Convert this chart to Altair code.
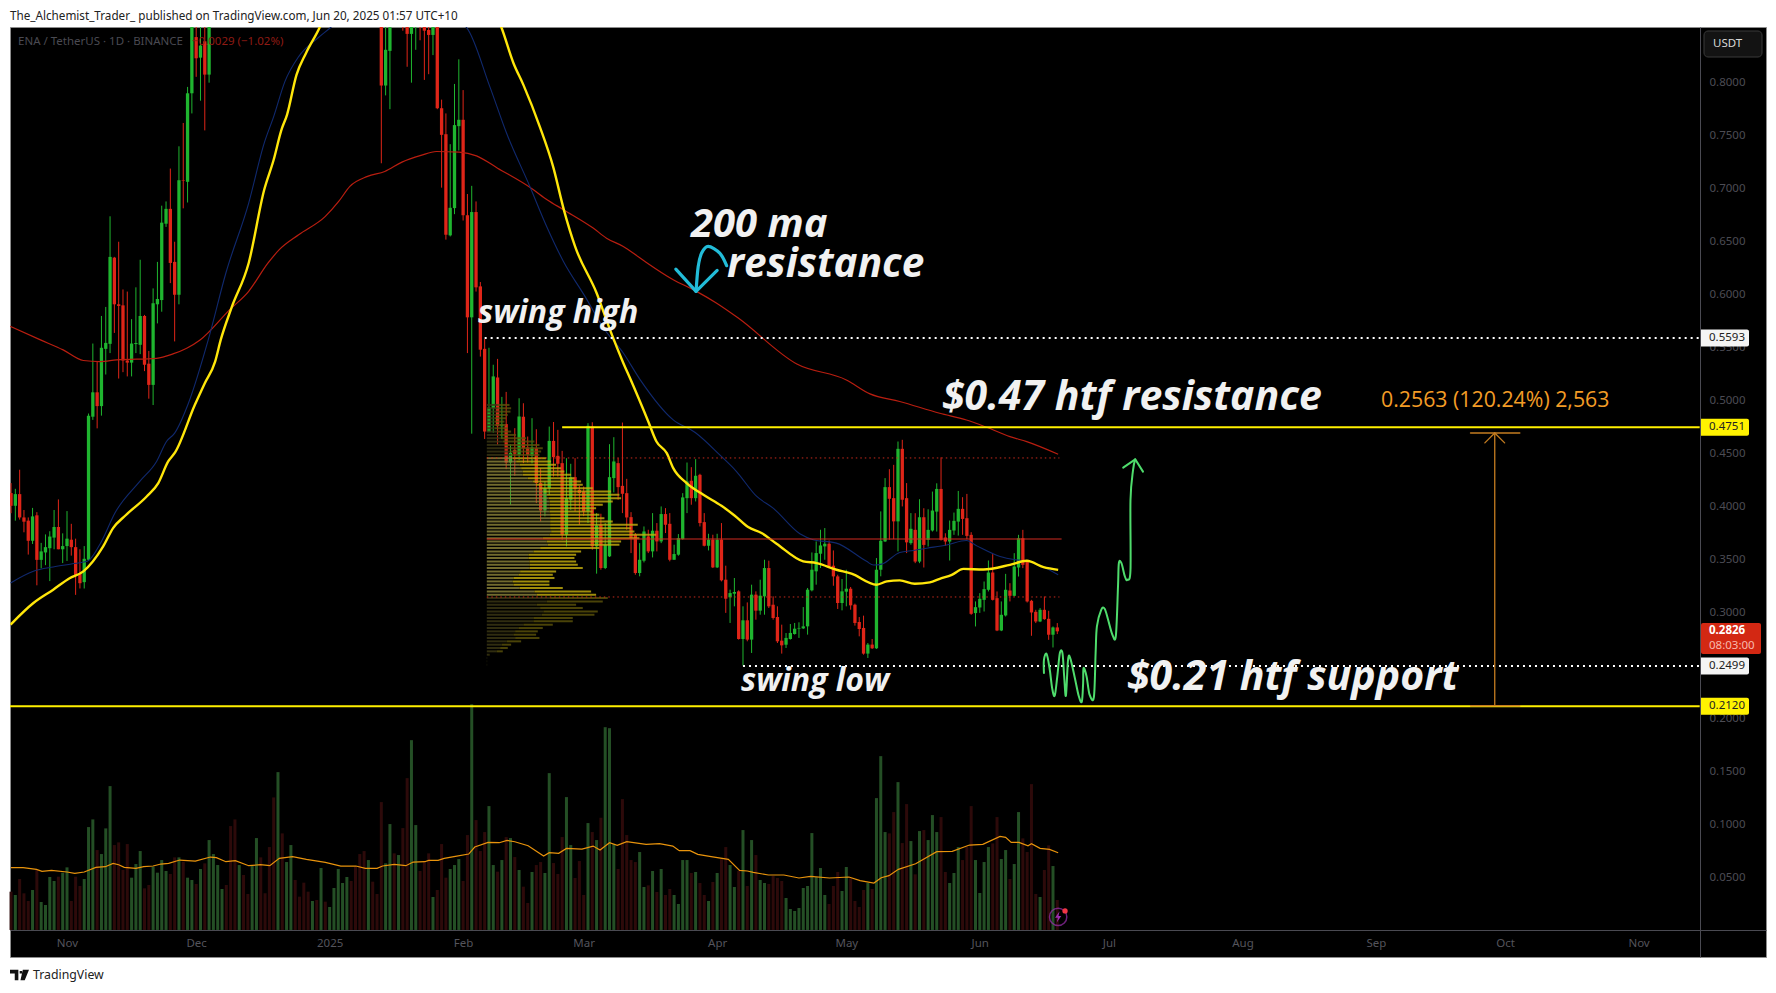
import altair as alt
import pandas as pd

# ---- candle days (days since 2024-11-01); the Dec-Jan candles above the chart top are not visible
candle_days = list(range(-13, 34)) + list(range(73, 231))

opens = [
 .413,.401,.412,.390,.387,.368,.392,.350,.357,.361,
 .371,.381,.360,.363,.369,.362,.337,.329,.350,.485,
 .508,.495,.549,.5537,.635,.591,.590,.538,.536,.5535,
 .5528,.580,.535,.515,.591,.595,.667,.681,.631,.600,
 .708,.7065,.790,.843,.8236,.839,.8076,
 .88,.7973,.830,.87,.88,.89,.87,.846,.87,.88,
 .87,.8497,.845,.88,.7759,.7514,.656,.6817,.759,.765,
 .675,.5787,.678,.6079,.549,.471,.493,.522,.476,.478,
 .4418,.4538,.449,.485,.456,.448,.4553,.4224,.3966,.4176,
 .4622,.4481,.4412,.3737,.4067,.428,.416,.4145,.3957,.4757,
 .3627,.3831,.3423,.3533,.4271,.4412,.4198,.4129,.3903,.3737,
 .3376,.3492,.3721,.358,.3775,.3674,.3932,.384,.3501,.3549,
 .3696,.4082,.4246,.4082,.4302,.3856,.3633,.369,.3429,.369,
 .3313,.3147,.3181,.3203,.2754,.293,.2748,.3172,.3021,.3156,
 .3423,.3077,.2961,.2738,.27,.2754,.2801,.2852,.2854,.2873,
 .3213,.3392,.3558,.3627,.3652,.3445,.3344,.3093,.32,.3228,
 .3077,.2914,.2858,.2616,.2701,.2666,.3407,.3674,.4186,.4082,
 .3863,.4547,.4082,.3658,.3783,.3484,.3902,.3689,.3777,.3955,
 .4169,.3711,.3673,.3777,.3861,.3981,.3893,.3736,.2998,.3051,
 .3123,.3218,.3381,.3139,.2834,.2976,.3211,.3161,.3428,.3704,
 .3484,.3114,.301,.2919,.3029,.2944,.2794,.2863]
closes = [
 .401,.412,.390,.386,.368,.391,.350,.358,.362,.372,
 .381,.360,.363,.370,.362,.335,.328,.351,.486,.508,
 .495,.550,.5546,.6357,.591,.5895,.538,.536,.554,.5545,
 .580,.534,.515,.592,.596,.668,.681,.630,.600,.708,
 .7075,.790,.88,.823,.835,.8076,.87,
 .7973,.831,.8522,.88,.885,.87,.846,.87,.88,.87,
 .849,.845,.855,.7759,.7508,.6566,.682,.760,.765,.675,
 .5787,.678,.607,.5482,.471,.4936,.523,.476,.478,.4418,
 .4509,.45,.4852,.4553,.449,.456,.4224,.3966,.4176,.4622,
 .4469,.4406,.3737,.4082,.428,.4167,.413,.3957,.4764,.3627,
 .3825,.3423,.3643,.428,.4428,.4186,.4123,.39,.3706,.3376,
 .3501,.3768,.358,.3775,.3674,.3932,.3831,.3501,.3555,.3705,
 .4089,.4239,.4082,.4293,.3847,.3633,.369,.3429,.369,.3307,
 .3134,.3187,.3197,.2754,.293,.2748,.3172,.3021,.3162,.3423,
 .3062,.2952,.2732,.2694,.2764,.2811,.2851,.2858,.2873,.3219,
 .3407,.3564,.3636,.3652,.3439,.3344,.3093,.3203,.3228,.3071,
 .2905,.2848,.2616,.2701,.2666,.3407,.368,.4186,.4076,.3863,
 .4547,.4067,.3665,.3793,.3484,.3902,.3641,.3783,.3965,.4169,
 .3689,.3673,.3783,.3868,.3981,.3886,.3726,.2991,.3054,.3133,
 .3224,.3381,.3123,.2834,.2982,.3218,.3161,.3437,.3704,.3453,
 .3108,.3004,.2919,.3029,.2941,.2794,.2863,.2826]
highs = [
 .4224,.417,.435,.397,.390,.399,.395,.366,.374,.377,
 .397,.407,.375,.396,.384,.370,.360,.363,.488,.554,
 .537,.580,.5885,.674,.6357,.650,.605,.603,.577,.607,
 .633,.581,.547,.606,.631,.684,.688,.719,.650,.740,
 .762,.796,.90,.88,.88,.87,.89,
 .90,.86,.88,.90,.91,.91,.90,.90,.90,.90,
 .90,.89,.89,.90,.784,.771,.742,.7988,.822,.793,
 .695,.7027,.688,.612,.5583,.55,.534,.5395,.5037,.5084,
 .459,.4742,.5024,.4977,.4663,.4836,.4732,.4365,.4239,.4757,
 .48,.4726,.4528,.4459,.4406,.4459,.42,.4192,.4789,.4798,
 .394,.3935,.3847,.4591,.4657,.4459,.4795,.4264,.395,.3753,
 .3658,.3815,.3784,.3941,.3847,.4004,.3988,.3941,.3643,.3743,
 .4129,.4418,.4374,.445,.4312,.3941,.3746,.3737,.3746,.3847,
 .3445,.3219,.3329,.3213,.3062,.3099,.3266,.3203,.3313,.3501,
 .3492,.3156,.3062,.2889,.281,.2895,.2905,.2911,.3055,.3235,
 .357,.3674,.3784,.38,.3683,.3589,.336,.3319,.3407,.3244,
 .3087,.2961,.2974,.2716,.2754,.3517,.3957,.4271,.4355,.4396,
 .4616,.4632,.4224,.3941,.394,.4072,.3987,.3977,.4144,.4222,
 .4467,.3751,.3871,.3946,.415,.4091,.4122,.3761,.3108,.3186,
 .3296,.3494,.3554,.3202,.3108,.3368,.328,.3563,.3736,.3783,
 .35,.3123,.3029,.3045,.3155,.302,.2872,.2904]
lows = [
 .394,.387,.388,.376,.355,.365,.326,.342,.345,.330,
 .360,.360,.347,.349,.354,.317,.323,.323,.349,.482,
 .474,.486,.5248,.545,.564,.521,.527,.523,.523,.545,
 .544,.528,.502,.496,.573,.584,.664,.611,.556,.591,
 .6815,.687,.771,.8055,.783,.755,.800,
 .724,.788,.775,.86,.865,.849,.815,.800,.831,.840,
 .8026,.808,.826,.775,.701,.652,.655,.676,.736,.670,
 .545,.469,.603,.5417,.464,.471,.470,.4585,.464,.4355,
 .402,.4293,.444,.4412,.4418,.441,.4035,.3863,.391,.4114,
 .4286,.4286,.369,.3627,.3972,.3957,.383,.3912,.3847,.3596,
 .337,.3407,.3413,.3527,.4136,.4067,.3941,.3784,.3564,.336,
 .3345,.3476,.3564,.3523,.358,.3658,.3753,.3486,.3501,.3539,
 .369,.3941,.402,.4051,.3815,.3627,.3589,.3423,.3423,.3297,
 .30,.2905,.3062,.2748,.2503,.2732,.2622,.2936,.2983,.2983,
 .3046,.2936,.2716,.2616,.2669,.2748,.2795,.2764,.2848,.2795,
 .3203,.3266,.3423,.3501,.3423,.3256,.3037,.3024,.3062,.303,
 .288,.2779,.2606,.2575,.266,.266,.3345,.3668,.369,.3696,
 .358,.4004,.3564,.3643,.3469,.3469,.3428,.3626,.3767,.3767,
 .3682,.3632,.3494,.3736,.3729,.3736,.3695,.2982,.2872,.30,
 .3013,.3202,.3117,.2828,.2828,.2966,.3108,.3155,.3343,.3422,
 .3098,.2784,.2904,.2913,.2935,.2746,.2674,.28]

# ---- volume (relative units), first bar 2024-10-19, one per day
volume = [
 115,105,153,110,87,120,180,84,75,159,
 147,160,172,188,87,160,132,153,309,332,
 240,228,305,432,255,263,180,258,157,198,
 237,125,135,190,172,210,177,168,218,218,
 205,157,150,138,183,200,270,228,195,123,
 135,312,332,195,165,108,192,276,218,110,
 249,398,474,290,204,255,150,100,142,115,
 87,90,186,85,69,126,183,141,159,147,
 190,228,237,210,145,108,384,200,318,230,
 225,306,456,570,315,177,204,230,99,120,
 258,157,183,195,213,147,285,678,330,237,
 294,372,195,175,210,279,276,219,180,130,
 81,174,195,204,171,471,201,168,279,399,
 255,156,207,105,321,294,270,337,609,606,
 258,183,393,285,210,204,234,129,134,177,
 114,183,105,123,105,78,210,210,171,174,
 141,105,87,144,171,213,249,195,129,177,
 300,132,270,225,150,141,138,162,156,147,
 96,63,57,66,126,132,291,159,186,105,
 78,132,174,117,189,155,87,69,120,141,
 123,396,522,294,290,354,444,261,378,267,
 167,297,300,270,345,294,339,174,141,171,
 249,210,250,372,210,111,204,249,260,339,
 213,240,153,198,354,275,234,438,108,99,
 180,254,192,90]
volume_dir = "".join([
 "rgrrrgrggg","grggrrrggg","rgggrrrrgg","grrggggrrg","rggrgrgggg",
 "rrrgrrggrr","rrgrggrrrr","grgrgggggr","rrrgrrrggr","grrggrrrgr",
 "rrgggrrgrr","rggrgrgrgr","rgrrggrrrg","grrrgrgrgg","grrrrrggrg",
 "rgrrggggrg","rrgrgrrggr","grgrggrrrr","gggggggggg","rrrggrrrrg",
 "rgggrrgrrg","rgrgggrrgg","grrrggggrr","ggrggrrrrg","rrgr"])

vol_ma_day = [-13,-10.2,-7.1,-5.8,-3.6,0,1.8,4,6.7,8.9,10.7,12,13.3,16,17.8,20,21.8,23.6,26.2,29.8,33.3,34.7,36.9,39.1,42.2,44.9,47.1,49.3,52.4,55.6,60,63.6,67.1,69.3,72,73.3,76,78.7,80.4,83.1,84,86.2,87.6,90.2,93.3,94.7,97.8,100.4,102.2,104,107.1,110.7,112,114.2,116,119.6,122.2,
              123.8,126,127.8,130,134.5,137.6,140.7,142.2,144.7,146.5,149.6,153.6,156.2,158,159.4,162.9,166.5,170,172.7,177.1,181.6,184.2,187.4,189.1,190.9,193.1,197.1,202,205.6,209.6,212.7,216.7,218,219.3,221.1,223.2,224,226,228.2,230.2]
vol_ma = [187,187,182,176,179,174,170,174,188,190,200,196,188,185,190,192,198,200,210,207,219,217,205,208,193,196,193,215,220,212,203,192,192,185,185,192,197,193,204,205,209,209,215,221,228,249,263,262,269,265,253,222,232,230,245,243,252,
          240,262,254,265,257,259,252,238,238,227,220,212,179,177,173,165,165,156,161,156,159,148,141,157,163,182,199,235,236,255,257,281,278,263,263,253,259,245,242,232]

# ---- moving averages
ma_red_day = [-13.2,-6.3,-0.9,3.8,7.7,11.5,20.8,24.6,27.8,30.9,37.8,42.2,46.7,49.3,53.8,60,63.1,65.7,69.8,73.8,77.8,82.2,85.8,91.1,95.1,100,108,111.5,115.4,122.2,125.3,129.2,133.1,140.8,146.2,150.8,155.9,169.5,181,186.5,193.4,202.7,208.9,213.6,219,222.9,230.2]
ma_red = [.5703,.5577,.548,.538,.537,.5386,.5401,.5442,.5496,.5574,.586,.6033,.630,.6425,.6566,.6739,.688,.7022,.7116,.7163,.7251,.7314,.7351,.7345,.731,.7194,.70,.6896,.68,.6629,.6534,.6456,.6346,.6142,.6032,.5922,.578,.5347,.5197,.5065,.4993,.4883,.4819,.475,.4662,.4615,.4496]

ma_blue_day = [-13.1,-7.8,-3.2,1,4.7,8,11.1,16.9,20.8,23.1,25,28.2,32.8,36.9,42.2,45.8,48,50.6,53.8,58.2,61.3,66,75,85,92.8,98.2,102.1,107.5,111.4,115.3,120.3,124.6,129.2,133.1,140.8,145.9,151.6,155.5,160.2,164,170.2,173.3,178.7,185.7,187.3,189.2,193.4,196.6,199.7,204.3,208.9,211.3,216.7,220.5,223.6,230.2]
ma_blue = [.3282,.3392,.3433,.3461,.3486,.3674,.394,.424,.4428,.4616,.4695,.4977,.5574,.6205,.6865,.743,.768,.801,.8246,.8419,.8523,.87,.89,.87,.852,.7963,.7523,.7021,.6644,.6314,.5985,.5687,.5451,.52,.482,.4701,.449,.4333,.4098,.3988,.3746,.369,.3658,.3486,.3451,.346,.357,.3589,.361,.3641,.3682,.3632,.3532,.35,.3485,.3359]

ma_yellow_day = [-13.1,-7.8,-3.2,.7,3.8,8.4,10.7,13.5,18.5,21.2,23.5,25.1,29.7,32,34.4,35.7,38.2,42.2,45.8,48,49.8,51.1,53.3,55.5,58.7,61,70,80,92,100.9,103.7,106,109.8,112.9,115.4,118,123,126.1,129.2,130.9,135,136.9,139.3,140.8,143.9,147.8,152,155.1,158.2,161.3,164.8,171,174.1,178.7,182.2,188,190.4,193.4,196.9,200.4,202.7,205.5,208.2,212.8,219,222.9,226.8,230.2]
ma_yellow = [.289,.3093,.3219,.3329,.3392,.3627,.38,.3916,.4098,.4224,.4428,.4513,.4962,.5166,.537,.5574,.5876,.63,.699,.7273,.7555,.7697,.8074,.8278,.8523,.875,.94,.96,.90,.852,.8183,.7979,.7586,.7209,.6801,.6456,.6016,.5671,.5357,.52,.4805,.4616,.4506,.4365,.4224,.4114,.401,.3916,.3809,.3753,.3652,.3486,.347,.3407,.337,.3266,.3297,.3307,.3275,.3288,.3321,.3359,.3415,.3409,.3453,.3491,.3431,.3406]

# ---- volume profile rows (price descending) total and up part, relative units
vp_total = [68,73,71,63,58,53,58,63,73,88,118,143,158,168,163,158,178,193,208,223,233,253,263,283,288,318,373,398,403,378,348,328,318,338,353,378,453,433,443,508,458,403,398,338,283,268,263,268,273,288,208,198,203,188,188,228,313,328,363,348,268,288,333,323,258,258,198,168,153,148,158,103,73,63,48,8,1,1,1]
vp_up = [33,33,36,28,23,23,23,23,33,38,43,48,53,63,68,73,78,88,98,103,108,108,123,138,148,158,170,180,185,188,188,188,188,190,190,190,190,190,193,188,168,180,183,160,140,125,125,128,128,128,100,95,80,78,80,98,143,150,190,180,150,160,170,165,140,140,110,95,85,80,85,60,45,40,30,6,1,1,1]
vp_top_price = 0.4961
vp_bin = 0.00314

# ---- levels
res_high = 0.4751
sup_low = 0.2120
swing_high = 0.5593
swing_low = 0.2499
poc = 0.3697
va_high = 0.4461
va_low = 0.3150

# ---- drawn paths (day, price)
wave_day = [226.9,226.9,227.5,228.2,228.8,229.4,230,230.6,231.2,231.6,232,232.5,233,234,235,235.7,236,236.1,236.8,237.5,238.5,238.9,239.2,240.2,241,241.8,242.8,243.6,244.1,244.3,244.9,245.7,246.3,247,247,247.6,248.1]
wave_price = [.2433,.2558,.2615,.248,.2291,.2219,.2401,.2621,.2621,.2401,.2219,.2558,.2574,.2401,.2213,.2163,.2338,.248,.2401,.2229,.2207,.2621,.2872,.3029,.3039,.2935,.2794,.2784,.3249,.3469,.3469,.3343,.3312,.3406,.4065,.4348,.4448]
wave_head_day = [245.3,248.1,249.9]
wave_head_price = [.437,.4448,.4332]
cyan_day = [153.2,151.6,148.9,147.4,146.6,146.1]
cyan_price = [.6274,.6393,.6456,.6393,.6267,.6032]
cyan_head_day = [141.4,146.1,151]
cyan_head_price = [.6242,.6032,.623]

time_ticks = [0,30,61,92,120,151,181,212,242,273,304,334,365]
time_labels = ["Nov","Dec","2025","Feb","Mar","Apr","May","Jun","Jul","Aug","Sep","Oct","Nov"]
price_ticks = [.05,.10,.15,.20,.25,.30,.35,.40,.45,.50,.55,.60,.65,.70,.75,.80]

GREEN, RED = "#1fb52f", "#df2518"
xs = alt.Scale(domain=[-13.24, 394.6], nice=False, zero=False, padding=0)
ys = alt.Scale(domain=[-0.0245, 0.8525], nice=False, zero=False, padding=0)
label_map = "{" + ",".join(f"'{k}':'{v}'" for k, v in zip(time_ticks, time_labels)) + "}"
x_axis = alt.Axis(
    values=time_ticks, labelExpr=label_map + "[datum.value]", orient="bottom", offset=-27,
    title=None, grid=False, ticks=False, domain=True, domainColor="#4a4a52", labelColor="#54545c",
    labelFont="Noto Sans", labelFontSize=11.5, labelPadding=7, labelOverlap=False, labelFlush=False)
y_axis = alt.Axis(
    values=price_ticks, format=".4f", orient="right", offset=-66, title=None, grid=False,
    ticks=False, domain=True, domainColor="#4a4a52", labelColor="#4c4c54", labelFont="Noto Sans",
    labelFontSize=11.5, labelPadding=9, labelOverlap=False, labelFlush=False)
X = lambda f="d": alt.X(f"{f}:Q", scale=xs, axis=x_axis)
Y = lambda f="p": alt.Y(f"{f}:Q", scale=ys, axis=y_axis)
X2 = lambda f: alt.X2(f"{f}")
Y2 = lambda f: alt.Y2(f"{f}")
nocolor = lambda: alt.Color("c:N", scale=None, legend=None)

cd = pd.DataFrame(dict(d=candle_days, o=opens, c_=closes, h=highs, l=lows))
cd["c"] = [GREEN if a >= b else RED for a, b in zip(cd.c_, cd.o)]

wicks = alt.Chart(cd).mark_rule(strokeWidth=1, clip=True).encode(
    x=X(), y=Y("l"), y2=Y2("h"), color=nocolor())
bodies = alt.Chart(cd).mark_bar(size=3.3, clip=True, orient="vertical").encode(
    x=X(), y=Y("o"), y2=Y2("c_"), color=nocolor())

# volume pane, placed on the price scale as an overlay
vol_base = 0.0010
vol_k = 0.000314
vd = pd.DataFrame(dict(d=list(range(-13, 231)), v=volume))
vd["c"] = ["#244f25" if s == "g" else "#2d0a0a" for s in volume_dir]
vd["top"] = vol_base + vd.v * vol_k
vd["base"] = vol_base
vol_bars = alt.Chart(vd).mark_bar(size=3, orient="vertical").encode(
    x=X(), y=Y("top"), y2=Y2("base"), color=nocolor())
vm = pd.DataFrame(dict(d=vol_ma_day, p=[vol_base + v * vol_k for v in vol_ma]))
vol_line = alt.Chart(vm).mark_line(color="#e8930c", strokeWidth=1.2).encode(x=X(), y=Y())

def ma(days, vals, color, w):
    return alt.Chart(pd.DataFrame(dict(d=days, p=vals))).mark_line(
        color=color, strokeWidth=w, clip=True, interpolate="monotone").encode(x=X(), y=Y())

red_ma = ma(ma_red_day, ma_red, "#b91e10", 1.2)
blue_ma = ma(ma_blue_day, ma_blue, "#10296e", 1.1)
yellow_ma = ma(ma_yellow_day, ma_yellow, "#ffe60a", 2.4)

# volume profile
prices = [vp_top_price - i * vp_bin for i in range(len(vp_total))]
vp_start = 97.5
vp_scale = 12.92
rows = []
for p, t, u in zip(prices, vp_total, vp_up):
    inside = va_low <= p <= va_high
    mid = vp_start + u / vp_scale
    rows.append(dict(p=p, d=vp_start, e=mid, c="#8a8238" if inside else "#3a3714"))
    rows.append(dict(p=p, d=mid, e=vp_start + t / vp_scale, c="#c2ac0e" if inside else "#5a520a"))
vp = alt.Chart(pd.DataFrame(rows)).mark_rule(strokeWidth=2, opacity=0.82).encode(
    x=X(), x2=X2("e"), y=Y(), color=nocolor())

def hline(p, d0, d1, color, w, dash=None):
    kw = dict(strokeDash=dash) if dash else {}
    return alt.Chart(pd.DataFrame(dict(d=[d0], e=[d1], p=[p]))).mark_rule(
        color=color, strokeWidth=w, **kw).encode(x=X(), x2=X2("e"), y=Y())

AX = 379.2
levels = [
    hline(va_high, 97.5, 230.5, "#c92a1d", 1, [1.5, 3]),
    hline(va_low, 97.5, 230.5, "#c92a1d", 1, [1.5, 3]),
    hline(poc, 97.5, 231, "#cf2a20", 1.2),
    hline(swing_high, 97, AX, "#ffffff", 2, [2, 4]),
    hline(swing_low, 157, AX, "#ffffff", 2, [2, 4]),
    hline(res_high, 115, AX, "#fff000", 2),
    hline(sup_low, -13.24, AX, "#fff000", 2),
]

def path(days, prices_, color, w, interp="linear"):
    df = pd.DataFrame(dict(d=days, p=prices_, i=range(len(days))))
    return alt.Chart(df).mark_line(color=color, strokeWidth=w, interpolate=interp,
                                   strokeCap="round", strokeJoin="round").encode(
        x=X(), y=Y(), order="i:Q")

drawn = [
    path(wave_day, wave_price, "#4fdc6c", 2, "cardinal"),
    path(wave_head_day, wave_head_price, "#4fdc6c", 2),
    path(cyan_day, cyan_price, "#22bcd8", 3.2, "cardinal"),
    path(cyan_head_day, cyan_head_price, "#22bcd8", 3.2),
]

# price-range measure tool
M = "#c47c20"
measure = [
    path([331.6, 331.6], [.2132, .4697], M, 1.3),
    path([326, 337.4], [.4697, .4697], M, 1.6),
    path([326, 337.4], [.2125, .2125], M, 1.6),
    path([329.3, 331.6, 333.9], [.4603, .4697, .4603], M, 1.3),
]

def txt(text, x, y, **kw):
    kw.setdefault("align", "left")
    kw.setdefault("baseline", "middle")
    return alt.Chart(pd.DataFrame({"t": [text]})).mark_text(**kw).encode(
        x=alt.value(x - 10), y=alt.value(y - 27), text="t:N")

CH = dict(font="Open Sans", fontStyle="italic", fontWeight="bold", color="#f1f1f1")
notes = [
    txt("200 ma", 691, 225, fontSize=40, **CH),
    txt("resistance", 727, 265, fontSize=40.5, **CH),
    txt("swing high", 478, 313, fontSize=32, **CH),
    txt("swing low", 741, 681, fontSize=32, **CH),
    txt("$0.47 htf resistance", 942, 398, fontSize=41, **CH),
    txt("$0.21 htf support", 1127, 678, fontSize=41, **CH),
    txt("0.2563 (120.24%) 2,563", 1381, 401, font="Open Sans", fontSize=21.3, color="#f39c26"),
    txt("ENA / TetherUS · 1D · BINANCE", 18, 42, font="Noto Sans", fontSize=11.5, color="#4a4a52"),
    txt("−0.0029 (−1.02%)", 192, 42, font="Noto Sans", fontSize=11.5, color="#8f1b14"),
    txt("The_Alchemist_Trader_ published on TradingView.com, Jun 20, 2025 01:57 UTC+10", 10, 16,
        font="Noto Sans", fontSize=11.7, color="#222222"),
    txt("TradingView", 33, 975, font="Noto Sans", fontSize=12.3, color="#222222"),
]

# right-hand price tags
def tag(p, fill, ink, x1=1749, half=0.008, label=None):
    df = pd.DataFrame(dict(p=[p], a=[p + half], b=[p - half], t=[label or f"{p:.4f}"]))
    box = alt.Chart(df).mark_bar(color=fill, cornerRadiusTopRight=2, cornerRadiusBottomRight=2,
                                 orient="vertical").encode(
        x=alt.value(1701 - 10), x2=alt.value(x1 - 10), y=Y("a"), y2=Y2("b"))
    text = alt.Chart(df).mark_text(align="left", baseline="middle", font="Noto Sans",
                                   fontSize=11.5, color=ink).encode(
        x=alt.value(1709 - 10), y=Y(), text="t:N")
    return [box, text]

tags = (tag(swing_high, "#f4f4f4", "#222222") + tag(res_high, "#fff200", "#222222")
        + tag(swing_low, "#f4f4f4", "#222222") + tag(sup_low, "#fff200", "#222222"))
last_box = alt.Chart(pd.DataFrame(dict(a=[.2905], b=[.2613]))).mark_bar(
    color="#d32813", cornerRadius=2, orient="vertical").encode(
    x=alt.value(1701 - 10), x2=alt.value(1761 - 10), y=Y("a"), y2=Y2("b"))
tags += [last_box,
         txt("0.2826", 1709, 631, font="Noto Sans", fontSize=11.5, fontWeight="bold", color="#ffffff"),
         txt("08:03:00", 1709, 646, font="Noto Sans", fontSize=11.5, color="#f7b9ae")]

usdt_box = alt.Chart(pd.DataFrame({"a": [0]})).mark_bar(
    color="#131313", stroke="#3a3a3a", cornerRadius=4, orient="vertical").encode(
    x=alt.value(1704 - 10), x2=alt.value(1762 - 10), y=alt.value(31 - 27), y2=alt.value(57 - 27))
usdt = [usdt_box, txt("USDT", 1713, 44, font="Noto Sans", fontSize=11.5, color="#d8d8d8")]

# small icons
ic = pd.DataFrame(dict(d=[230.2], p=[0.0133]))
dot = pd.DataFrame(dict(d=[231.8], p=[0.0189]))
icons = [
    alt.Chart(ic).mark_point(shape="circle", size=300, filled=False, color="#9c2fb0", strokeWidth=1.5).encode(x=X(), y=Y()),
    alt.Chart(ic).mark_point(shape="M0.25,-1 L-0.55,0.15 L-0.05,0.15 L-0.25,1 L0.55,-0.15 L0.05,-0.15 Z",
                             size=130, filled=True, color="#9c2fb0", opacity=1).encode(x=X(), y=Y()),
    alt.Chart(dot).mark_point(shape="circle", size=28, filled=True, color="#f23645", opacity=1).encode(x=X(), y=Y()),
    alt.Chart(pd.DataFrame({"a": [0]})).mark_point(
        shape="M-1,-.55 L-.12,-.55 L-.12,.55 L-.5,.55 L-.5,-.15 L-1,-.15 Z M.02,-.42 L.27,-.42 L.27,-.16 L.02,-.16 Z M.35,-.55 L1,-.55 L.55,.55 L.1,.55 Z",
        size=361, filled=True, color="#111111", opacity=1).encode(x=alt.value(19.5 - 10), y=alt.value(975 - 27)),
]

layers = ([vol_bars, vol_line, wicks, bodies, red_ma, blue_ma, yellow_ma, vp] + levels + measure + drawn
          + notes + tags + usdt + icons)

chart = alt.layer(*layers).properties(
    width=1756, height=930, background="white",
    padding={"left": 2, "top": 19, "right": 2, "bottom": 28},
    autosize=alt.AutoSizeParams(type="none"),
).configure_view(fill="#000000", stroke="#8c8c8c", strokeWidth=1)

chart.save("out.html", embed_options={"renderer": "svg", "actions": False})
